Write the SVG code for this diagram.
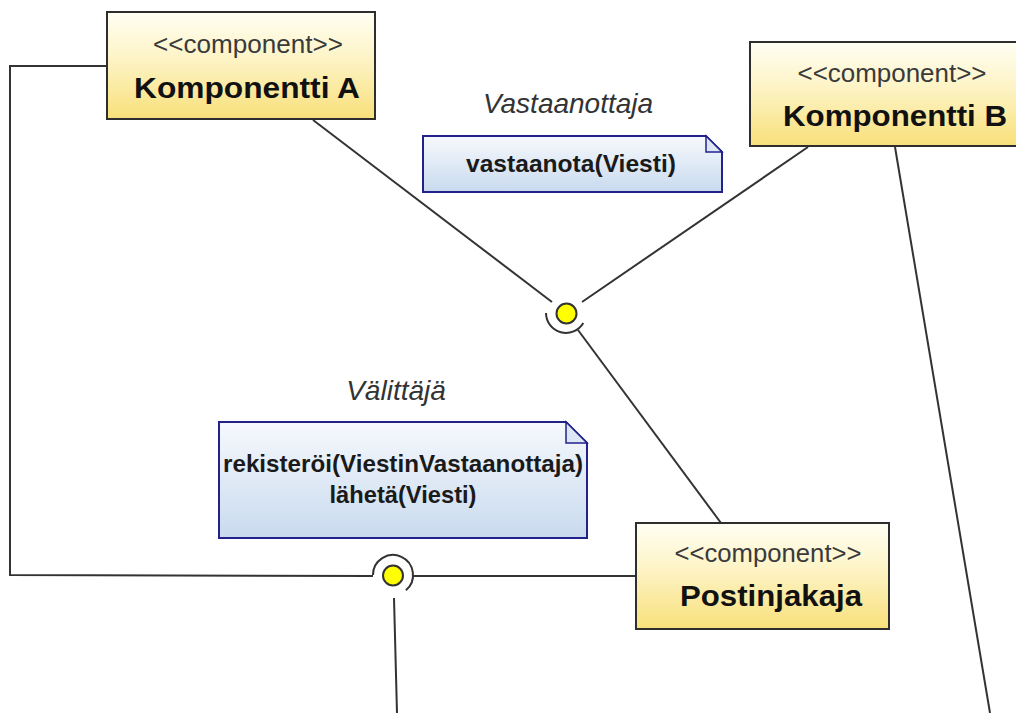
<svg xmlns="http://www.w3.org/2000/svg" width="1016" height="713" viewBox="0 0 1016 713">
  <defs>
    <linearGradient id="compFill" x1="0" y1="0" x2="0" y2="1">
      <stop offset="0" stop-color="#fffff4"/>
      <stop offset="0.45" stop-color="#fdf3c4"/>
      <stop offset="1" stop-color="#f8e07a"/>
    </linearGradient>
    <linearGradient id="noteFill" x1="0" y1="0" x2="0" y2="1">
      <stop offset="0" stop-color="#f6f9fd"/>
      <stop offset="1" stop-color="#c9daee"/>
    </linearGradient>
    <style>
      .comp { fill: url(#compFill); stroke: #2e2e2e; stroke-width: 2; }
      .note { fill: url(#noteFill); stroke: #22228a; stroke-width: 2; stroke-linejoin: miter; }
      .fold { fill: #dce6f4; stroke: #22228a; stroke-width: 1.5; }
      .stereo { font-family: "Liberation Sans", Arial, sans-serif; font-size: 25px; fill: #3a3a3a; text-anchor: middle; }
      .name { font-family: "Liberation Sans", Arial, sans-serif; font-size: 30px; font-weight: bold; fill: #111; text-anchor: middle; }
      .ops { font-family: "Liberation Sans", Arial, sans-serif; font-size: 24px; font-weight: bold; fill: #1a1a1a; text-anchor: middle; }
      .iface { font-family: "Liberation Sans", Arial, sans-serif; font-size: 28px; font-style: italic; fill: #333; text-anchor: middle; }
      .wire { fill: none; stroke: #333; stroke-width: 2; }
      .ball { fill: #ffff00; stroke: #333; stroke-width: 2; }
    </style>
  </defs>

  <rect width="1016" height="713" fill="#ffffff"/>

  <!-- connectors -->
  <g id="connectors">
    <polyline class="wire" points="107,66 10,66 10,575 373,576"/>
    <line class="wire" x1="413" y1="576" x2="636" y2="576"/>
    <line class="wire" x1="394" y1="598" x2="397" y2="713"/>
    <line class="wire" x1="313" y1="120" x2="552" y2="302"/>
    <line class="wire" x1="808" y1="147" x2="582" y2="302"/>
    <line class="wire" x1="578" y1="330" x2="721" y2="523"/>
    <line class="wire" x1="895" y1="147" x2="990" y2="713"/>
  </g>

  <!-- interface Vastaanottaja: provided ball with required socket -->
  <g id="iface-vastaanottaja">
    <path class="wire" d="M546,313 A20,20 0 0 0 583.3,323"/>
    <circle class="ball" cx="566.5" cy="313.5" r="10"/>
    <text class="iface" x="568" y="113">Vastaanottaja</text>
  </g>

  <!-- interface Välittäjä -->
  <g id="iface-valittaja">
    <path class="wire" d="M373,575 A20,20 0 1 1 405.9,590.3"/>
    <circle class="ball" cx="393" cy="575.5" r="10"/>
    <text class="iface" x="396" y="400">Välittäjä</text>
  </g>

  <!-- note: operations of Vastaanottaja -->
  <g id="note-vastaanottaja">
    <path class="note" d="M423,136 H706 L722,152 V192 H423 Z"/>
    <path class="fold" d="M706,136 V152 H722 Z"/>
    <text class="ops" x="571" y="172" textLength="210" lengthAdjust="spacingAndGlyphs">vastaanota(Viesti)</text>
  </g>

  <!-- note: operations of Välittäjä -->
  <g id="note-valittaja">
    <path class="note" d="M219,422 H566 L587,443 V538 H219 Z"/>
    <path class="fold" d="M566,422 V443 H587 Z"/>
    <text class="ops" x="403" y="472" textLength="360" lengthAdjust="spacingAndGlyphs">rekisteröi(ViestinVastaanottaja)</text>
    <text class="ops" x="403" y="503" textLength="147" lengthAdjust="spacingAndGlyphs">lähetä(Viesti)</text>
  </g>

  <!-- component A -->
  <g id="komponentti-a">
    <rect class="comp" x="107" y="12" width="268" height="107"/>
    <text class="stereo" x="248" y="53" textLength="190" lengthAdjust="spacingAndGlyphs">&lt;&lt;component&gt;&gt;</text>
    <text class="name" x="247" y="98" textLength="226" lengthAdjust="spacingAndGlyphs">Komponentti A</text>
  </g>

  <!-- component B -->
  <g id="komponentti-b">
    <rect class="comp" x="750" y="42" width="290" height="104"/>
    <text class="stereo" x="892" y="82" textLength="189" lengthAdjust="spacingAndGlyphs">&lt;&lt;component&gt;&gt;</text>
    <text class="name" x="895" y="126" textLength="224" lengthAdjust="spacingAndGlyphs">Komponentti B</text>
  </g>

  <!-- component Postinjakaja -->
  <g id="postinjakaja">
    <rect class="comp" x="636" y="523" width="253" height="106"/>
    <text class="stereo" x="768" y="562" textLength="187" lengthAdjust="spacingAndGlyphs">&lt;&lt;component&gt;&gt;</text>
    <text class="name" x="771" y="606" textLength="182" lengthAdjust="spacingAndGlyphs">Postinjakaja</text>
  </g>
</svg>
